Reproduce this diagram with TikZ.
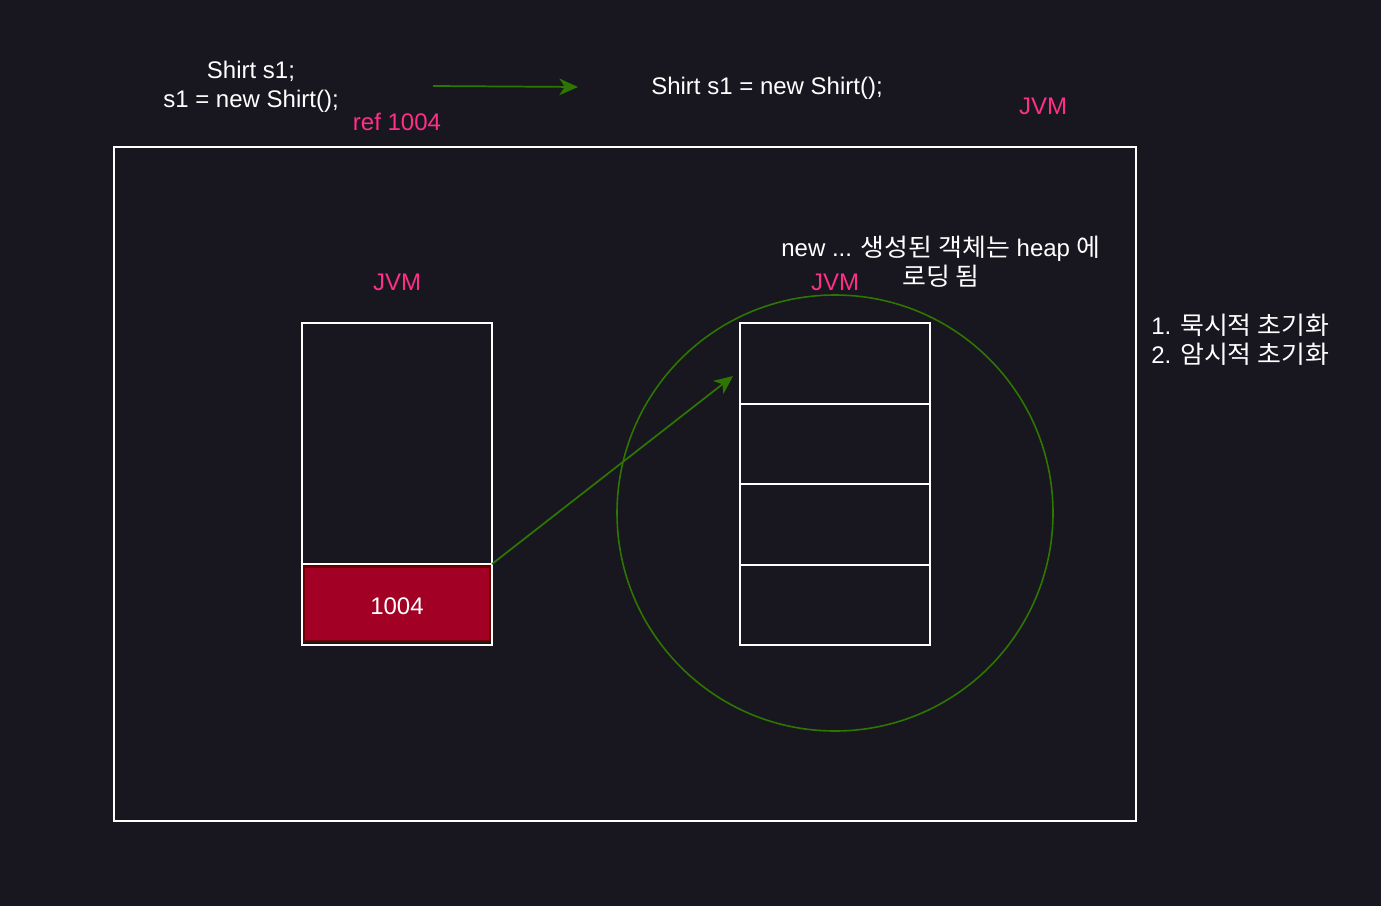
\documentclass[tikz,border=0pt]{standalone}
\usepackage{fontspec}
\setmainfont{Liberation Sans}
\newfontfamily\kr[FakeStretch=1.05, Scale=1.03]{Noto Sans CJK KR}
\usetikzlibrary{arrows.meta}
\definecolor{bg}{HTML}{18161F}
\definecolor{pinkc}{HTML}{FF2E88}
\definecolor{greenc}{HTML}{2D7600}
\definecolor{redfill}{HTML}{A20025}
\definecolor{redline}{HTML}{6F0000}
\tikzset{
  box/.style={draw=white, line width=1.5pt, anchor=north west, inner sep=0pt, outer sep=0pt, minimum width=142.5pt},
  txt/.style={text=white, font=\fontsize{18}{21.5}\selectfont, inner sep=0pt, align=center},
  pink/.style={text=pinkc, font=\fontsize{18}{21.5}\selectfont, inner sep=0pt},
  garrow/.style={draw=greenc, line width=1.3pt, -{Triangle[length=14pt,width=12.5pt,inset=4pt]}}
}
\begin{document}
\begin{tikzpicture}[x=0.75pt,y=-0.75pt]
\fill[bg] (0,0) rectangle (1381,906);
\useasboundingbox (0,0) rectangle (1381,906);
% main frame
\node[box, minimum width=766.5pt, minimum height=505.5pt] (frame) at (114,147) {};
% stack
\node[box, minimum height=180.75pt] (st1) at (302,323) {};
\node[box, minimum height=60.75pt] (st2) at (302,564) {};
\node[fill=redfill, draw=redline, line width=1.5pt, anchor=north west, inner sep=0pt, outer sep=0pt, minimum width=139.5pt, minimum height=55.5pt] (red) at (304,566.5) {};
\node[txt] (v1004) at (397,606) {1004};
% heap cells
\node[box, minimum height=60.4pt] (h1) at (740,323) {};
\node[box, minimum height=60.4pt] (h2) at (740,403.5) {};
\node[box, minimum height=60.4pt] (h3) at (740,484) {};
\node[box, minimum height=60.4pt] (h4) at (740,564.5) {};
% heap circle
\node[draw=greenc, line width=1.2pt, circle, minimum size=327pt, inner sep=0pt] (heap) at (835,513) {};
% texts
\node[txt] (code1) at (251,86.5) {Shirt s1;\\s1 = new Shirt();};
\node[pink] (ref) at (397,122) {ref 1004};
\node[txt] (code2) at (767,88.5) {Shirt s1 = new Shirt();};
\node[pink] (jvm1) at (1043,106) {JVM};
\node[pink] (jvm2) at (397,282) {JVM};
\node[pink] (jvm3) at (835,282) {JVM};
\node[txt] (note) at (941,262) {new ... {\kr 생성된 객체는} heap {\kr 에}\\[0pt]{\kr 로딩 됨}};
\node[txt, align=left, anchor=west] (init) at (1151,339.5) {1. {\kr 묵시적 초기화}\\2. {\kr 암시적 초기화}};
% arrows
\coordinate (a1) at (433,86);
\coordinate (a2) at (578,87);
\draw[garrow] (a1) -- (a2);
\coordinate (tip) at (733,376);
\draw[garrow] (st2.north east) -- (tip);
\end{tikzpicture}
\end{document}
